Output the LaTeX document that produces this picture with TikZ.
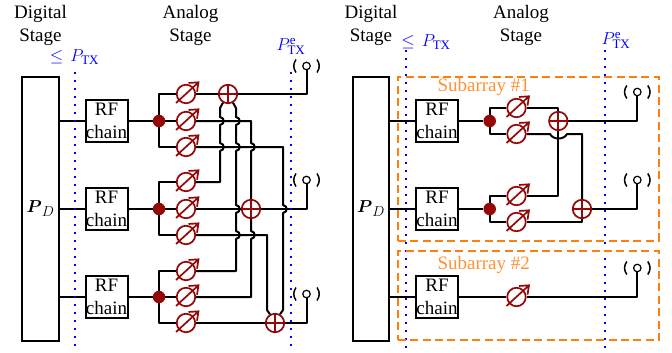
\documentclass[tikz,border=0pt]{standalone}
\usepackage{fontspec}
\setmainfont{Liberation Serif}
\definecolor{dred}{RGB}{150,8,8}
\definecolor{oline}{RGB}{255,127,14}
\newcommand{\bmp}[2]{-- (#1,#2-4) .. controls (#1+5,#2-3) and (#1+5,#2+3) .. (#1,#2+4)}
\newcommand{\subs}[1]{\mbox{\fontsize{13}{14}\selectfont #1}}
\newcommand{\PTX}{$P_{\subs{TX}}$}
\newcommand{\PTXe}{$P^{\subs{e}}_{\subs{TX}}$}
\newcommand{\PD}{{\boldmath$P$}$_{D}$}
\newcommand{\PSh}[3]{\node[psnode] (#1) at (#2,#3) {};
  \draw[dred,line width=1.7pt,line join=miter] ($(#1)+(-10pt,-9pt)$) -- ($(#1)+(12.5pt,11.7pt)$)
    ($(#1)+(2.5pt,11pt)$) -- ($(#1)+(12.5pt,11.7pt)$) -- ($(#1)+(11pt,2.3pt)$);}
\newcommand{\Ant}[3]{\node[antnode] (#1) at (#2,#3) {};
  \draw[parenline] ($(#1)+(-10.5pt,6.5pt)$) .. controls ($(#1)+(-13.5pt,2pt)$) and ($(#1)+(-13.5pt,-2pt)$) .. ($(#1)+(-10.5pt,-6.5pt)$);
  \draw[parenline] ($(#1)+(10.5pt,6.5pt)$) .. controls ($(#1)+(13.5pt,2pt)$) and ($(#1)+(13.5pt,-2pt)$) .. ($(#1)+(10.5pt,-6.5pt)$);}
\usetikzlibrary{calc}
\tikzset{
  lbl/.style={font=\fontsize{19}{23}\selectfont,inner sep=0pt,align=center,text=black},
  bluelbl/.style={font=\fontsize{19}{23}\selectfont,inner sep=0pt,text=blue},
  wire/.style={draw=black,line width=2pt,line join=round},
  parenline/.style={draw=black,line width=1.5pt},
  rfbox/.style={draw=black,line width=2pt,minimum width=42pt,minimum height=41.5pt,inner sep=0pt,align=center,font=\fontsize{19}{23}\selectfont},
  dsp/.style={draw=black,line width=2pt,minimum width=36.5pt,minimum height=263.5pt,inner sep=0pt,font=\fontsize{19}{23}\selectfont},
  psnode/.style={circle,draw=dred,line width=1.7pt,minimum size=18.5pt,inner sep=0pt},
  addnode/.style={circle,draw=dred,line width=1.7pt,minimum size=18.5pt,inner sep=0pt,
    path picture={\draw[dred,line width=1.7pt] (path picture bounding box.north)--(path picture bounding box.south)
      (path picture bounding box.west)--(path picture bounding box.east);}},
  splitdot/.style={circle,fill=dred,minimum size=12.5pt,inner sep=0pt},
  antnode/.style={circle,draw=black,line width=1.2pt,minimum size=7.5pt,inner sep=0pt},
  bdot/.style={draw=blue,line width=2.2pt,dash pattern=on 2.2pt off 5.8pt},
  sub/.style={draw=oline,line width=1.8pt,dash pattern=on 8pt off 4.4pt},
  sublbl/.style={font=\fontsize{19}{23}\selectfont,inner sep=0pt,text=oline!85!white}
}
\begin{document}
\begin{tikzpicture}[x=1pt,y=-1pt]
\useasboundingbox (0,0) rectangle (672,353);
% ---------- left panel ----------
\node[lbl] (tdl) at (40.5,25) {Digital\\Stage};
\node[lbl] (tal) at (190.5,25) {Analog\\Stage};
\node[bluelbl,anchor=base] (ptl) at (74.5,62) {$\leq$\hspace{7pt}\PTX};
\node[bluelbl,anchor=base] (pel) at (291,50.5) {\PTXe};
\node[dsp] (dl) at (40.5,209) {\PD};
\node[rfbox] (rl1) at (106.5,121) {RF\\chain};
\node[rfbox] (rl2) at (106.5,209) {RF\\chain};
\node[rfbox] (rl3) at (106.5,297) {RF\\chain};
\node[splitdot] (sl1) at (159,121) {};
\node[splitdot] (sl2) at (159,209) {};
\node[splitdot] (sl3) at (159,297) {};
\PSh{p11}{186}{94}\PSh{p12}{186}{121}\PSh{p13}{186}{147}
\PSh{p21}{186}{182}\PSh{p22}{186}{209}\PSh{p23}{186}{235}
\PSh{p31}{186}{271}\PSh{p32}{186}{297}\PSh{p33}{186}{323}
\node[addnode] (al1) at (228,94) {};
\node[addnode] (al2) at (251,209) {};
\node[addnode] (al3) at (275,323) {};
\Ant{tl1}{306.5}{66}\Ant{tl2}{306.5}{180}\Ant{tl3}{306.5}{294}
\foreach \i in {1,2,3}{
  \draw[wire] (dl.east |- rl\i.west) -- (rl\i.west);
  \draw[wire] (rl\i.east) -- (sl\i);
  \draw[wire] (sl\i) -- (p\i2.west);
  \draw[wire] (p\i1.west) -| (sl\i.north);
  \draw[wire] (sl\i.south) |- (p\i3.west);
}
\draw[wire] (p11.east) -- (al1.west);
\draw[wire] (al1.east) -| (tl1.south);
\draw[wire] (al2.east) -| (tl2.south);
\draw[wire] (al3.east) -| (tl3.south);
\draw[wire] (p22.east) -- (al2.west);
\draw[wire] (p33.east) -- (al3.west);
\draw[wire] (al1.-120) -- (220,108) \bmp{220}{121} \bmp{220}{147} -- (220,182) -- (p21.east);
\draw[wire] (al1.-60) -- (236,108) \bmp{236}{121} \bmp{236}{147} \bmp{236}{209} \bmp{236}{235} -- (236,271) -- (p31.east);
\draw[wire] (p12.east) -- (251,121) \bmp{251}{147} -- (al2.north);
\draw[wire] (al2.south) \bmp{251}{235} -- (251,297) -- (p32.east);
\draw[wire] (p13.east) -- (283,147) \bmp{283}{209} -- (283,310) -- (al3.60);
\draw[wire] (p23.east) -- (267,235) -- (267,310) -- (al3.120);
\coordinate (bl1a) at (75,72); \coordinate (bl1b) at (75,350);
\coordinate (bl2a) at (291,72); \coordinate (bl2b) at (291,350);
\draw[bdot] (bl1a) -- (bl1b);
\draw[bdot] (bl2a) -- (bl2b);
% ---------- right panel ----------
\node[lbl] (tdr) at (371,25) {Digital\\Stage};
\node[lbl] (tar) at (521,25) {Analog\\Stage};
\node[bluelbl,anchor=base] (ptr) at (426,47) {$\leq$\hspace{7pt}\PTX};
\node[bluelbl,anchor=base] (per) at (616,44.5) {\PTXe};
\node[dsp] (dr) at (371,209) {\PD};
\node[rfbox] (rr1) at (437,121) {RF\\chain};
\node[rfbox] (rr2) at (437,209) {RF\\chain};
\node[rfbox] (rr3) at (437,297) {RF\\chain};
\node[splitdot] (sr1) at (489.7,121) {};
\node[splitdot] (sr2) at (489.7,209) {};
\PSh{q11}{516.5}{108}\PSh{q12}{516.5}{134}
\PSh{q21}{516.5}{196}\PSh{q22}{516.5}{222}
\PSh{q31}{516.5}{297}
\node[addnode] (ar1) at (558.3,121) {};
\node[addnode] (ar2) at (582,209) {};
\Ant{tr1}{637.3}{92}\Ant{tr2}{637.3}{180}\Ant{tr3}{637.3}{268}
\foreach \i in {1,2,3}{
  \draw[wire] (dr.east |- rr\i.west) -- (rr\i.west);
}
\draw[wire] (rr1.east) -- (sr1);
\draw[wire] (rr2.east) -- (sr2);
\draw[wire] (rr3.east) -- (q31.west);
\draw[wire] (q11.west) -| (sr1.north);
\draw[wire] (sr1.south) |- (q12.west);
\draw[wire] (q21.west) -| (sr2.north);
\draw[wire] (sr2.south) |- (q22.west);
\draw[wire] (q11.east) -| (ar1.north);
\draw[wire] (q12.east) -- (550,134) .. controls (553,140) and (564,140) .. (567,134) -- (582,134) -- (ar2.north);
\draw[wire] (ar1.south) |- (q21.east);
\draw[wire] (q22.east) -| (ar2.south);
\draw[wire] (ar1.east) -| (tr1.south);
\draw[wire] (ar2.east) -| (tr2.south);
\draw[wire] (q31.east) -| (tr3.south);
\coordinate (br1a) at (405.7,50); \coordinate (br1b) at (405.7,350);
\coordinate (br2a) at (605,50); \coordinate (br2b) at (605,350);
\draw[bdot] (br1a) -- (br1b);
\draw[bdot] (br2a) -- (br2b);
\node[sub,inner sep=0pt,minimum width=261pt,minimum height=163.7pt] (sa1) at (528.2,159) {};
\node[sub,inner sep=0pt,minimum width=261pt,minimum height=89pt] (sa2) at (528.2,295.8) {};
\node[sublbl] (sl1t) at (483.7,87) {Subarray \#1};
\node[sublbl] (sl2t) at (483.7,265) {Subarray \#2};
\end{tikzpicture}
\end{document}
